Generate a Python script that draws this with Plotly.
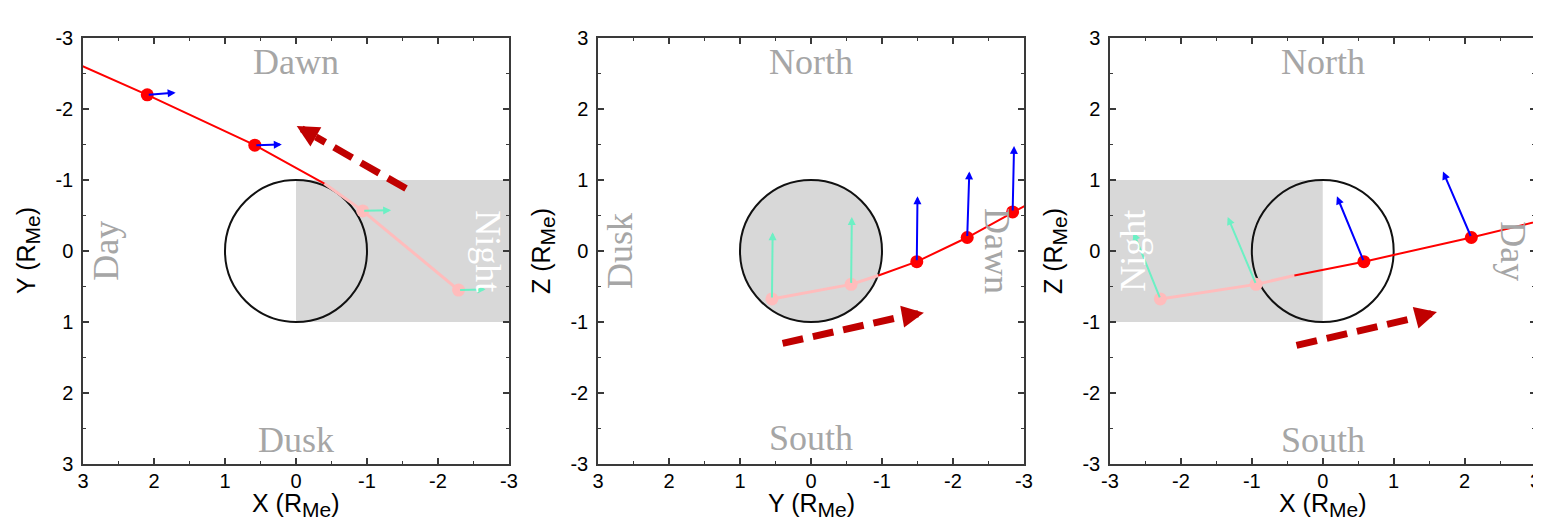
import plotly.graph_objects as go

# ---------------- data (R_Me) ----------------
# spacecraft trajectory: first points in the night-side shadow, then in sunlight
traj_x = [-2.29, -0.94, -0.40, 0.58, 2.095, 3.55, 3.95]
traj_y = [0.55, -0.565, -0.95, -1.49, -2.20, -2.84, -3.02]
traj_z = [-0.675, -0.47, -0.345, -0.15, 0.19, 0.55, 0.64]
shadow_exit = 2          # index where the trajectory leaves the shadow

# marked positions (indices into trajectory) and their field vectors
dot_idx = [0, 1, 3, 4, 5]
vec_x = [-0.38, -0.40, -0.38, -0.40, -0.40]
vec_y = [-0.01, -0.01, -0.01, -0.03, -0.02]
vec_z = [0.94, 0.95, 0.92, 0.93, 0.93]

tick_vals = [-3, -2, -1, 0, 1, 2, 3]
tick_text = ['-3', '-2', '-1', '0', '1', '2', '3']

# direction arrows (start, head base, tip) per panel, in panel coordinates
dir_start_h = [-1.55, 0.40, -0.37]
dir_start_v = [-0.88, -1.30, -1.33]
dir_base_h = [-0.279, -1.28, 1.31]
dir_base_v = [-1.607, -0.925, -0.94]
dir_tip_h = [-0.01, -1.59, 1.61]
dir_tip_v = [-1.76, -0.87, -0.86]

# page is offset by the browser's 8px body margin
OFF = 8
W, H = 1541 - OFF, 520 - OFF


def fx(px):
    return (px - OFF) / W


def fy(py):
    return 1 - (py - OFF) / H


RED = '#ff0000'
PINK = '#ffbcbc'
BLUE = '#0000ff'
AQUA = '#6cf0c4'
DARKRED = '#c00000'
SHADE = '#d8d8d8'
LABEL = '#a6a6a6'
SANS = 'Liberation Sans, Arial'
SERIF = 'Liberation Serif, Times New Roman'

coords = {'X': traj_x, 'Y': traj_y, 'Z': traj_z}
vecs = {'X': vec_x, 'Y': vec_y, 'Z': vec_z}

SUB = '<sub><span style="font-size:21px">Me</span></sub>'
panels = [
    dict(h='X', v='Y', xr=[3, -3], yr=[3, -3], px=(83, 509),
         xt='X (R' + SUB + ')', yt='Y (R' + SUB + ')',
         labels=[('Dawn', 0, -2.66, 0, LABEL), ('Dusk', 0, 2.66, 0, LABEL),
                 ('Day', 2.68, 0, -90, LABEL), ('Night', -2.70, 0, 90, 'white')],
         shade=('rect', 0, -3, -1, 1)),
    dict(h='Y', v='Z', xr=[3, -3], yr=[-3, 3], px=(598, 1024),
         xt='Y (R' + SUB + ')', yt='Z (R' + SUB + ')',
         labels=[('North', 0, 2.66, 0, LABEL), ('South', 0, -2.63, 0, LABEL),
                 ('Dusk', 2.69, 0, -90, LABEL), ('Dawn', -2.62, 0, 90, LABEL)],
         shade=('circle',)),
    dict(h='X', v='Z', xr=[-3, 3], yr=[-3, 3], px=(1110, 1535.5),
         xt='X (R' + SUB + ')', yt='Z (R' + SUB + ')',
         labels=[('North', 0, 2.66, 0, LABEL), ('South', 0, -2.66, 0, LABEL),
                 ('Night', -2.68, 0, -90, 'white'), ('Day', 2.68, 0, 90, LABEL)],
         shade=('rect', -3, 0, -1, 1)),
]

fig = go.Figure()
shapes = []
annos = []

y_dom = [fy(464), fy(38)]

for i, p in enumerate(panels):
    n = '' if i == 0 else str(i + 1)
    xa, ya = 'x' + n, 'y' + n
    hv, vv = coords[p['h']], coords[p['v']]
    hb, vb = vecs[p['h']], vecs[p['v']]

    axis_common = dict(showgrid=False, zeroline=False, showline=True, linecolor='#3a3a3a',
                       linewidth=1.5, mirror='allticks', ticks='inside', ticklen=6,
                       tickwidth=1.5, tickcolor='#3a3a3a', tickmode='array',
                       tickvals=tick_vals, ticktext=tick_text,
                       minor=dict(ticks='inside', ticklen=3.5, tickwidth=1.2,
                                  tickcolor='#3a3a3a', dtick=0.5, tick0=0),
                       tickfont=dict(family=SANS, size=20, color='black'),
                       ticklabeloverflow='allow',
                       automargin=False, fixedrange=True)
    fig.update_layout(**{
        'xaxis' + n: dict(axis_common, range=p['xr'], anchor=ya,
                          domain=[fx(p['px'][0]), fx(p['px'][1])], ticklabelstandoff=-2),
        'yaxis' + n: dict(axis_common, range=p['yr'], anchor=xa, domain=y_dom,
                          ticklabelstandoff=4),
    })

    # shading / planet
    if p['shade'][0] == 'rect':
        _, x0, x1, y0, y1 = p['shade']
        shapes.append(dict(type='rect', xref=xa, yref=ya, x0=x0, x1=x1, y0=y0, y1=y1,
                           fillcolor=SHADE, line_width=0, layer='below'))
        shapes.append(dict(type='circle', xref=xa, yref=ya, x0=-1, x1=1, y0=-1, y1=1,
                           line=dict(color='#111111', width=2), layer='below'))
    else:
        shapes.append(dict(type='circle', xref=xa, yref=ya, x0=-1, x1=1, y0=-1, y1=1,
                           fillcolor=SHADE, line=dict(color='#111111', width=2),
                           layer='below'))

    # trajectory
    k = shadow_exit
    fig.add_trace(go.Scatter(x=hv[:k + 1], y=vv[:k + 1], mode='lines',
                             line=dict(color=PINK, width=3), xaxis=xa, yaxis=ya,
                             hoverinfo='skip', showlegend=False))
    fig.add_trace(go.Scatter(x=hv[k:], y=vv[k:], mode='lines',
                             line=dict(color=RED, width=2), xaxis=xa, yaxis=ya,
                             hoverinfo='skip', showlegend=False))
    dh = [hv[j] for j in dot_idx]
    dv = [vv[j] for j in dot_idx]
    cols = [PINK if j < k else RED for j in dot_idx]
    fig.add_trace(go.Scatter(x=dh, y=dv, mode='markers',
                             marker=dict(color=cols, size=13, line_width=0),
                             xaxis=xa, yaxis=ya, hoverinfo='skip', showlegend=False))

    # field vectors
    lo_h, hi_h = min(p['xr']), max(p['xr'])
    lo_v, hi_v = min(p['yr']), max(p['yr'])
    for m, j in enumerate(dot_idx):
        if not (lo_h <= dh[m] <= hi_h and lo_v <= dv[m] <= hi_v):
            continue
        annos.append(dict(x=dh[m] + hb[m], y=dv[m] + vb[m], ax=dh[m], ay=dv[m],
                          xref=xa, yref=ya, axref=xa, ayref=ya, text='',
                          showarrow=True, arrowhead=2, arrowwidth=2, arrowsize=0.8,
                          arrowcolor=AQUA if j < k else BLUE))

    # direction of motion (dashed arrow)
    fig.add_trace(go.Scatter(x=[dir_start_h[i], dir_base_h[i]], y=[dir_start_v[i], dir_base_v[i]],
                             mode='lines', line=dict(color=DARKRED, width=7, dash='21px,10px'),
                             xaxis=xa, yaxis=ya, hoverinfo='skip', showlegend=False))
    annos.append(dict(x=dir_tip_h[i], y=dir_tip_v[i], ax=dir_base_h[i], ay=dir_base_v[i],
                      xref=xa, yref=ya, axref=xa, ayref=ya, text='', showarrow=True,
                      arrowhead=2, arrowwidth=7, arrowsize=0.63, arrowcolor=DARKRED))

    # region labels
    for (txt, lx, ly, ang, col) in p['labels']:
        annos.append(dict(x=lx, y=ly, xref=xa, yref=ya, text=txt, showarrow=False,
                          textangle=ang, xanchor='center', yanchor='middle',
                          font=dict(family=SERIF, size=36, color=col)))

    # axis titles
    cx = (p['px'][0] + p['px'][1]) / 2
    annos.append(dict(x=fx(cx), y=fy(505), xref='paper', yref='paper', text=p['xt'],
                      showarrow=False, xanchor='center', yanchor='middle',
                      font=dict(family=SANS, size=25, color='black')))
    annos.append(dict(x=fx(p['px'][0] - 55), y=fy(251), xref='paper', yref='paper',
                      text=p['yt'], showarrow=False, textangle=-90, xanchor='center',
                      yanchor='middle', font=dict(family=SANS, size=25, color='black')))

fig.update_layout(width=W, height=H, autosize=False,
                  margin=dict(l=0, r=0, t=0, b=0, pad=0),
                  paper_bgcolor='white', plot_bgcolor='white',
                  shapes=shapes, annotations=annos, showlegend=False)

fig.write_html('out.html')
